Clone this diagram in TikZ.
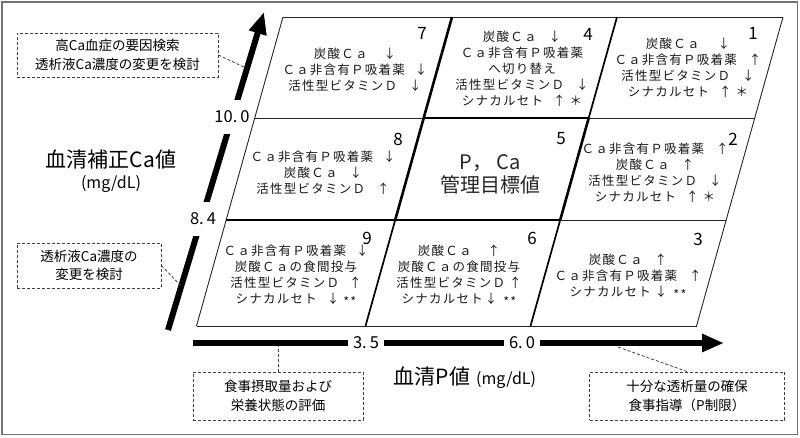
\documentclass[tikz,border=0pt]{standalone}
\usepackage{fontspec}
\usetikzlibrary{arrows.meta}
\newfontfamily\jp{Noto Sans CJK JP}
\newfontfamily\jpsp[LetterSpace=10]{Noto Sans CJK JP}
\newcommand{\twostar}{\raisebox{-3pt}{**}}
\begin{document}
\begin{tikzpicture}[x=1pt,y=-1pt,
  thinl/.style={line width=0.9pt, black!85},
  midl/.style={line width=1.7pt},
  thickl/.style={line width=2.6pt},
  axis/.style={line width=6pt, -{Triangle[length=22pt,width=17pt]}},
  axlab/.style={fill=white, inner xsep=2pt, inner ysep=0pt, font=\jp\fontsize{16.5}{16.5}\selectfont},
  celltext/.style={align=center, font=\jpsp\fontsize{12.5}{16}\selectfont, text=black!90, inner sep=0pt},
  cellnum/.style={font=\jp\fontsize{17}{17}\selectfont, inner sep=0pt},
  dbox/.style={draw=black!75, dashed, dash pattern=on 3pt off 2pt, line width=0.9pt, align=center,
    font=\jp\fontsize{13.5}{18.5}\selectfont, inner sep=0pt},
  dconn/.style={draw=black!75, dashed, dash pattern=on 3pt off 2pt, line width=0.8pt}]
\useasboundingbox (0,0) rectangle (800,437);
\draw[black!55, line width=1.6pt] (2,2) rectangle (797.5,434.5);

% axes
\coordinate (vs) at (168,330);
\coordinate (ve) at (264,12);
\draw[axis] (vs) -- (ve);
\coordinate (hs) at (193,343);
\coordinate (he) at (724,343);
\draw[axis] (hs) -- (he);
\node[axlab, minimum height=34pt] (l100) at (232,117) {10.\hspace{3pt}0};
\node[axlab, minimum height=34pt] (l84) at (203,219) {8.\hspace{3pt}4};
\node[axlab, inner xsep=5pt, minimum height=10pt] (l35) at (366,343) {3.\hspace{3pt}5};
\node[axlab, inner xsep=5pt, minimum height=10pt] (l60) at (522,343) {6.\hspace{3pt}0};

% grid points
\coordinate (P00) at (283,17);   \coordinate (P01) at (452,17);   \coordinate (P02) at (617,17);   \coordinate (P03) at (783,17);
\coordinate (P10) at (254.7,118);\coordinate (P11) at (423.7,118);\coordinate (P12) at (588.7,118);\coordinate (P13) at (754.7,118);
\coordinate (P20) at (226.2,220);\coordinate (P21) at (395.2,220);\coordinate (P22) at (560.2,220);\coordinate (P23) at (726.2,220);
\coordinate (P30) at (196.5,326);\coordinate (P31) at (365.5,326);\coordinate (P32) at (530.5,326);\coordinate (P33) at (696.5,326);

\draw[thinl] (P00) -- (P03);
\draw[thinl] (P10) -- (P11);
\draw[thinl] (P12) -- (P13);
\draw[thinl] (P22) -- (P23);
\draw[thinl] (P30) -- (P33);
\draw[thinl] (P00) -- (P30);
\draw[thinl] (P03) -- (P33);
\draw[midl] (P02) -- (P12);
\draw[midl] (P21) -- (P31);
\draw[midl] (P22) -- (P32);
\draw[thickl] (P01) -- (P11);
\draw[thickl] (P11) -- (P12);
\draw[thickl] (P20) -- (P22);
\draw[thickl] (P11) -- (P21);
\draw[thickl] (P12) -- (P22);

% cell numbers
\node[cellnum] (n7) at (422,33) {7};
\node[cellnum] (n4) at (588,34) {4};
\node[cellnum] (n1) at (753,33) {1};
\node[cellnum] (n8) at (398,139) {8};
\node[cellnum] (n5) at (561,139) {5};
\node[cellnum] (n2) at (733,139) {2};
\node[cellnum] (n9) at (367,238) {9};
\node[cellnum] (n6) at (532,238) {6};
\node[cellnum] (n3) at (698,239) {3};

% cell texts
\node[celltext] (c7) at (355,70) {炭酸Ｃａ\hspace{16pt}↓\\Ｃａ非含有Ｐ吸着薬\hspace{10pt}↓\\活性型ビタミンＤ\hspace{12pt}↓};
\node[celltext] (c4) at (522,69) {炭酸Ｃａ\hspace{12pt}↓\\Ｃａ非含有Ｐ吸着薬\\へ切り替え\hspace{34pt}\\活性型ビタミンＤ\hspace{12pt}↓\\シナカルセト\hspace{10pt}↑\hspace{4pt}＊};
\node[celltext] (c1) at (688,68) {炭酸Ｃａ\hspace{18pt}↓\\Ｃａ非含有Ｐ吸着薬\hspace{12pt}↑\\活性型ビタミンＤ\hspace{12pt}↓\\シナカルセト\hspace{10pt}↑\hspace{4pt}＊};
\node[celltext] (c8) at (323,173) {Ｃａ非含有Ｐ吸着薬\hspace{10pt}↓\\炭酸Ｃａ\hspace{12pt}↓\\活性型ビタミンＤ\hspace{12pt}↑};
\node[align=center, inner sep=0pt, font=\jp\fontsize{20}{23}\selectfont, text=black!85] (c5) at (490,174) {P，\hspace{4pt}Ca\\管理目標値};
\node[celltext] (c2) at (655,173) {Ｃａ非含有Ｐ吸着薬\hspace{12pt}↑\\炭酸Ｃａ\hspace{12pt}↑\\活性型ビタミンＤ\hspace{12pt}↓\\シナカルセト\hspace{10pt}↑\hspace{4pt}＊};
\node[celltext] (c9) at (296,276) {Ｃａ非含有Ｐ吸着薬\hspace{10pt}↓\\炭酸Ｃａの食間投与\\活性型ビタミンＤ\hspace{10pt}↑\\シナカルセト\hspace{10pt}↓\hspace{4pt}\twostar};
\node[celltext] (c6) at (459,276) {炭酸Ｃａ\hspace{16pt}↑\\炭酸Ｃａの食間投与\\活性型ビタミンＤ\hspace{4pt}↑\\シナカルセト\hspace{2pt}↓\hspace{6pt}\twostar};
\node[celltext] (c3) at (628,277) {炭酸Ｃａ\hspace{12pt}↑\\Ｃａ非含有Ｐ吸着薬\hspace{12pt}↑\\シナカルセト\hspace{4pt}↓\hspace{6pt}\twostar};

% axis titles
\node[align=center, inner sep=0pt] (ytitle) at (111,171) {{\jp\fontsize{21}{24}\selectfont 血清補正Ca値}\\[5pt]{\jp\fontsize{16}{18}\selectfont (mg/dL)}};
\node[inner sep=0pt] (xtitle) at (465,378) {{\jp\fontsize{21}{24}\selectfont 血清P値}\hspace{6pt}{\jp\fontsize{16}{18}\selectfont (mg/dL)}};

% dashed boxes
\node[dbox, minimum width=201pt, minimum height=44pt] (b1) at (117.5,55) {高Ca血症の要因検索\\透析液Ca濃度の変更を検討};
\node[dbox, minimum width=144pt, minimum height=45pt] (b2) at (89,265.5) {透析液Ca濃度の\\変更を検討};
\node[dbox, minimum width=170pt, minimum height=48pt] (b3) at (278,396) {食事摂取量および\\栄養状態の評価};
\node[dbox, minimum width=195pt, minimum height=48pt] (b4) at (687,396) {十分な透析量の確保\\食事指導（P制限）};

\coordinate (a1) at (246,68);
\coordinate (a2) at (182,287);
\coordinate (a3) at (278,346);
\coordinate (a4) at (618,347);
\draw[dconn] (b1.east) -- (a1);
\draw[dconn] (b2.east) -- (a2);
\draw[dconn] (b3.north) -- (a3);
\draw[dconn] (b4.north) -- (a4);
\end{tikzpicture}
\end{document}
